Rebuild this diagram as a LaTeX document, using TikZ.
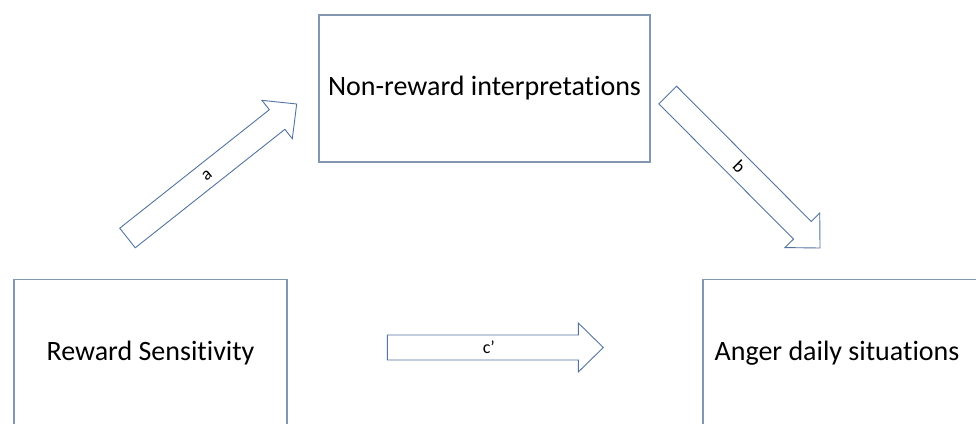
\documentclass[tikz,border=0pt]{standalone}
\usepackage{fontspec}
\setmainfont{Carlito}[Ligatures=NoCommon]
\usetikzlibrary{calc}

\definecolor{boxline}{RGB}{132,151,176}
\definecolor{arrowline}{RGB}{84,116,160}

% Outlined block arrow from tail #1 to tip #2, label #3 along its axis
\newcommand\blockarrow[3]{%
  \coordinate (#1-neck) at ($(#2)!25pt!(#1)$);
  \draw[blockarrow]
    ($(#1)!12.5pt!90:(#2)$) -- ($(#1-neck)!12.5pt!90:(#2)$) --
    ($(#1-neck)!24.5pt!90:(#2)$) -- (#2) --
    ($(#1-neck)!24.5pt!-90:(#2)$) -- ($(#1-neck)!12.5pt!-90:(#2)$) --
    ($(#1)!12.5pt!-90:(#2)$) -- cycle;
  \path (#1) -- node[arrowlabel, pos=0.47, sloped] {#3} (#2);
}

\begin{document}
\begin{tikzpicture}[x=1pt, y=-1pt,
  varbox/.style={draw=boxline, line width=1.2pt, fill=white,
    minimum width=#1, minimum height=147pt, inner sep=0pt,
    font=\fontsize{28}{33}\selectfont},
  blockarrow/.style={draw=arrowline, line width=0.9pt, fill=white, line join=miter},
  arrowlabel/.style={font=\fontsize{18}{20}\selectfont, inner sep=0pt}]
  \useasboundingbox (0,0) rectangle (976,423);
  \clip (0,0) rectangle (976,423);
  \fill[white] (0,0) rectangle (976,423);

  % variables
  \node[varbox=331pt] (mediator) at (484.5,88.5) {Non-reward interpretations};
  \node[varbox=273pt] (predictor) at (150.5,353) {Reward Sensitivity};
  \node[varbox=278pt] (outcome) at (842,353) {\hspace*{-10pt}Anger daily situations};

  % paths
  \coordinate (aTail) at (127.5,238);
  \coordinate (aTip) at (296.7,104);
  \coordinate (bTail) at (667.7,95);
  \coordinate (bTip) at (820,248);
  \coordinate (cTail) at (387.3,347.5);
  \coordinate (cTip) at (603.3,347.5);

  \blockarrow{aTail}{aTip}{a}
  \blockarrow{bTail}{bTip}{b}
  \blockarrow{cTail}{cTip}{c’}
\end{tikzpicture}
\end{document}
